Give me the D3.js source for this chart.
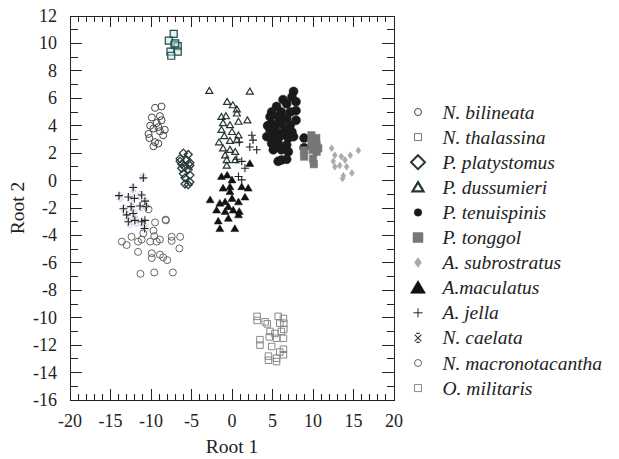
<!DOCTYPE html>
<html>
<head>
<meta charset="utf-8">
<script src="https://cdn.jsdelivr.net/npm/d3@7"></script>
<style>
  body { margin: 0; background: #fff; }
  svg { display: block; font-family: "Liberation Serif", "Times New Roman", serif; }
</style>
</head>
<body>
<div id="chart"></div>
<script>
// scores: [root1, root2]
var bilineata = [[-9.5,5.3],[-8.7,5.4],[-9.9,4.6],[-8.9,4.7],[-8.7,4.4],[-10.1,4.0],[-9.1,3.9],[-8.3,3.7],[-10.3,3.4],[-8.9,3.6],[-8.5,3.3],[-10.2,3.1],[-9.5,2.8],[-9.1,2.7],[-9.7,2.5],[-9.3,4.2],[-9.7,3.8]];
var thalassina = [[-7.2,10.7],[-7.8,10.2],[-7.1,9.9],[-6.7,9.8],[-7.6,9.4],[-6.7,9.4],[-7.5,9.1],[-7.0,10.0]];
var platystomus = [[-6.0,2.0],[-5.4,1.9],[-6.4,1.6],[-5.6,1.5],[-5.2,1.3],[-6.2,1.2],[-5.8,1.0],[-6.4,1.4],[-5.2,1.1],[-6.2,0.9],[-5.4,0.8],[-6.0,0.5],[-5.2,0.4],[-5.8,0.2],[-5.2,-0.1],[-5.8,-0.25],[-5.4,-0.3]];
var dussumieri = [[-2.8,6.55],[2.2,6.5],[-0.6,5.75],[0.1,5.5],[0.6,5.2],[0.6,4.9],[-1.3,4.65],[-0.75,4.7],[0.8,4.3],[1.9,4.4],[-1.1,4.2],[-0.25,4.05],[-1.3,3.7],[0.0,3.55],[0.8,3.3],[-0.95,3.25],[-1.6,2.8],[-0.25,2.9],[0.6,2.95],[-1.1,2.35],[-0.25,2.25],[0.4,2.1],[-0.85,1.85],[-0.65,1.5],[0.4,1.5],[-0.65,1.1]];
var tenuispinis = [[7.6,6.5],[7.4,6.1],[7.9,5.75],[5.5,5.4],[6.75,5.6],[4.9,5.0],[6.1,5.0],[7.2,5.0],[7.9,5.1],[4.7,4.65],[5.7,4.65],[6.75,4.55],[7.9,4.4],[4.9,4.15],[6.1,4.15],[7.2,4.05],[4.7,3.7],[5.5,3.55],[6.5,3.7],[7.4,3.55],[5.1,3.2],[5.9,3.2],[6.95,3.1],[4.9,2.7],[5.7,2.7],[6.75,2.6],[5.1,2.25],[6.1,2.25],[6.95,2.1],[6.1,1.5],[6.75,1.55],[5.7,1.4],[7.6,3.2],[5.3,3.9],[8.9,3.1],[8.9,2.4],[4.4,4.0],[4.3,3.2],[6.3,5.9],[5.9,4.4],[6.3,3.4],[5.4,2.9]];
var tonggol = [[9.8,3.3],[10.4,3.1],[9.8,2.8],[10.45,2.6],[9.95,2.25],[10.45,2.1],[8.9,2.2],[8.9,1.75],[10.0,1.6],[10.1,1.2],[10.65,2.35]];
var subrostratus = [[12.3,2.35],[12.7,1.85],[15.6,2.2],[14.6,1.85],[13.5,1.75],[12.5,1.4],[13.95,1.5],[13.3,1.1],[14.15,1.0],[12.7,1.0],[14.8,0.55],[13.75,0.35],[13.65,0.15]];
var maculatus = [[2.2,1.25],[-1.3,0.3],[-0.6,0.4],[0.0,0.05],[-1.1,-0.55],[-0.25,-0.45],[1.2,-0.45],[2.0,-0.55],[-2.7,-1.4],[-1.5,-1.65],[-0.85,-1.55],[0.0,-1.3],[0.8,-1.55],[1.6,-1.2],[-0.45,-1.9],[-1.9,-2.15],[-0.85,-2.25],[0.15,-2.15],[0.9,-2.25],[-1.7,-2.95],[-0.45,-2.75],[-1.5,-3.5],[0.35,-3.5],[0.8,-2.5],[-0.25,-0.8]];
var jella = [[-10.95,0.2],[-12.2,-0.5],[-13.95,-1.1],[-12.8,-1.2],[-12.05,-1.3],[-11.15,-1.05],[-10.75,-1.5],[-13.4,-2.05],[-12.45,-1.9],[-11.35,-1.85],[-10.55,-1.9],[-13.0,-2.5],[-12.2,-2.4],[-12.0,-2.9],[-11.15,-3.0],[-12.8,-3.0],[-10.75,-2.9],[-10.8,-3.5],[2.45,3.3],[2.6,2.95],[2.2,2.45],[3.05,2.25],[0.6,1.55],[1.2,1.4],[1.6,0.9],[0.8,0.3],[1.2,0.05],[0.9,2.8]];
var caelata = [[-12.2,-0.6],[-13.8,-1.2],[-12.6,-1.3],[-11.3,-1.1],[-10.6,-1.6],[-13.3,-2.1],[-12.3,-2.0],[-11.2,-1.9],[-12.9,-2.6],[-12.0,-2.5],[-11.8,-3.0],[-11.0,-3.1],[-12.6,-3.1],[-10.7,-3.4],[-11.0,0.25]];
var macronotacantha = [[-10.3,-2.1],[-8.15,-2.9],[-9.5,-3.05],[-9.7,-3.65],[-10.95,-3.85],[-9.6,-4.05],[-12.4,-4.1],[-8.9,-4.3],[-7.45,-4.1],[-6.4,-4.1],[-7.45,-4.4],[-13.6,-4.45],[-13.0,-4.7],[-11.6,-4.45],[-11.15,-4.3],[-10.1,-4.45],[-9.3,-4.45],[-6.5,-4.95],[-11.6,-5.2],[-9.9,-5.3],[-9.9,-5.65],[-8.9,-5.4],[-8.5,-5.6],[-8.0,-5.8],[-11.3,-6.8],[-9.6,-6.7],[-7.3,-6.7],[-8.2,-2.85]];
var militaris = [[3.1,-9.9],[3.1,-10.2],[4.1,-10.3],[4.35,-10.45],[5.7,-9.9],[6.35,-10.05],[5.9,-10.4],[6.4,-10.4],[6.4,-10.85],[4.7,-11.0],[6.1,-11.0],[5.3,-11.15],[4.6,-11.4],[5.5,-11.5],[6.35,-11.5],[3.45,-11.6],[3.45,-12.0],[4.9,-12.1],[6.35,-12.3],[5.9,-12.5],[6.35,-12.7],[4.5,-12.8],[4.5,-13.1],[5.5,-12.95],[5.5,-13.2]];

var species = ["N. bilineata","N. thalassina","P. platystomus","P. dussumieri","P. tenuispinis","P. tonggol","A. subrostratus","A.maculatus","A. jella","N. caelata","N. macronotacantha","O. militaris"];
var series = [bilineata, thalassina, platystomus, dussumieri, tenuispinis, tonggol, subrostratus, maculatus, jella, caelata, macronotacantha, militaris];

var x_ticks = [-20,-15,-10,-5,0,5,10,15,20];
var y_ticks = [12,10,8,6,4,2,0,-2,-4,-6,-8,-10,-12,-14,-16];

// marker looks, in legend order
var styles = [
  { shape: "circle", size: 7, stroke: "#444", fill: "none", sw: 1, lsize: 7, lsw: 1 },
  { shape: "square", size: 7, stroke: "#1f4c4c", fill: "rgba(200,230,230,0.5)", sw: 1.2, lsize: 7, lsw: 1, lstroke: "#777" },
  { shape: "diamond", size: 8, stroke: "#263838", fill: "none", sw: 1.3, lsize: 14, lsw: 2 },
  { shape: "triangle", size: 7, stroke: "#263333", fill: "none", sw: 1.2, lsize: 11, lsw: 2.2 },
  { shape: "circle", size: 9, stroke: "#1a1a1a", fill: "#1a1a1a", sw: 0.5, lsize: 7.5, lsw: 0.5 },
  { shape: "square", size: 7.5, stroke: "#777", fill: "#777", sw: 0.5, lsize: 10, lsw: 0.5 },
  { shape: "tdiamond", size: 7, stroke: "#aaa", fill: "#aaa", sw: 0.5, lsize: 10, lsw: 0.5 },
  { shape: "triangle", size: 8, stroke: "#111", fill: "#111", sw: 0.5, lsize: 15, lsw: 0.5 },
  { shape: "plus", size: 8, stroke: "#222", fill: "none", sw: 1.1, lsize: 9, lsw: 1 },
  { shape: "caelata", size: 8, stroke: "#cfcfe6", fill: "none", sw: 1.4, lsize: 9, lsw: 1.1, lstroke: "#333" },
  { shape: "circle", size: 7, stroke: "#666", fill: "none", sw: 1, lsize: 7, lsw: 1 },
  { shape: "square", size: 6.5, stroke: "#888", fill: "none", sw: 1, lsize: 7, lsw: 1 }
];

// paint order on the plot (caelata sits under the jella crosses)
var draw_order = [0, 1, 2, 3, 4, 5, 6, 7, 9, 8, 10, 11];

function markerPath(shape, s) {
  var h = s / 2;
  switch (shape) {
    case "circle":
      return "M" + h + ",0A" + h + "," + h + " 0 1,1 " + (-h) + ",0A" + h + "," + h + " 0 1,1 " + h + ",0Z";
    case "square":
      return "M" + (-h) + "," + (-h) + "H" + h + "V" + h + "H" + (-h) + "Z";
    case "diamond":
      return "M0," + (-h) + "L" + h + ",0L0," + h + "L" + (-h) + ",0Z";
    case "tdiamond":
      return "M0," + (-h) + "L" + (h * 0.7) + ",0L0," + h + "L" + (-h * 0.7) + ",0Z";
    case "triangle":
      return "M0," + (-h * 0.95) + "L" + h + "," + (h * 0.75) + "L" + (-h) + "," + (h * 0.75) + "Z";
    case "plus":
      return "M" + (-h) + ",0H" + h + "M0," + (-h) + "V" + h;
    case "caelata":
      var q = h * 0.75;
      return "M" + (-q) + "," + (-q) + "L" + q + "," + q + "M" + q + "," + (-q) + "L" + (-q) + "," + q +
        "M" + (-q * 0.5) + "," + (-h) + "H" + (q * 0.5) + "M" + (-q * 0.5) + "," + h + "H" + (q * 0.5);
  }
}

var width = 619, height = 459;
var margin = { top: 16, right: 225, bottom: 59, left: 70 };

var svg = d3.select("#chart").append("svg")
  .attr("width", width)
  .attr("height", height);

var x = d3.scaleLinear().domain([-20, 20]).range([margin.left, width - margin.right]);
var y = d3.scaleLinear().domain([-16, 12]).range([height - margin.bottom, margin.top]);

var axis_color = "#222";

// minor + major ticks on all four sides, pointing inwards
var x_minor = d3.range(-20, 21, 1);
var y_minor = d3.range(-16, 13, 1);

function tickLen_x(v) { return v % 5 === 0 ? 11 : 6; }
function tickLen_y(v) { return v % 2 === 0 ? 12 : 7.5; }

var ticks = svg.append("g").attr("shape-rendering", "crispEdges").attr("stroke", axis_color).attr("stroke-width", 1);

ticks.selectAll(".xb").data(x_minor).enter().append("line")
  .attr("x1", function (d) { return x(d); }).attr("x2", function (d) { return x(d); })
  .attr("y1", y(-16)).attr("y2", function (d) { return y(-16) - tickLen_x(d); });
ticks.selectAll(".xt").data(x_minor).enter().append("line")
  .attr("x1", function (d) { return x(d); }).attr("x2", function (d) { return x(d); })
  .attr("y1", y(12)).attr("y2", function (d) { return y(12) + tickLen_x(d); });
ticks.selectAll(".yl").data(y_minor).enter().append("line")
  .attr("y1", function (d) { return y(d); }).attr("y2", function (d) { return y(d); })
  .attr("x1", x(-20)).attr("x2", function (d) { return x(-20) + tickLen_y(d); });
ticks.selectAll(".yr").data(y_minor).enter().append("line")
  .attr("y1", function (d) { return y(d); }).attr("y2", function (d) { return y(d); })
  .attr("x1", x(20)).attr("x2", function (d) { return x(20) - tickLen_y(d); });

svg.append("rect")
  .attr("x", x(-20)).attr("y", y(12))
  .attr("width", x(20) - x(-20)).attr("height", y(-16) - y(12))
  .attr("fill", "none").attr("stroke", axis_color).attr("stroke-width", 1)
  .attr("shape-rendering", "crispEdges");

// tick labels
svg.selectAll(".xlab").data(x_ticks).enter().append("text")
  .attr("x", function (d) { return x(d); })
  .attr("y", y(-16) + 27)
  .attr("text-anchor", "middle")
  .attr("font-size", "18px")
  .attr("fill", "#222")
  .text(function (d) { return d; });

svg.selectAll(".ylab").data(y_ticks).enter().append("text")
  .attr("x", x(-20) - 13)
  .attr("y", function (d) { return y(d) + 6; })
  .attr("text-anchor", "end")
  .attr("font-size", "18px")
  .attr("fill", "#222")
  .text(function (d) { return d; });

svg.append("text")
  .attr("x", (x(-20) + x(20)) / 2)
  .attr("y", 453)
  .attr("text-anchor", "middle")
  .attr("font-size", "19.5px")
  .attr("fill", "#222")
  .text("Root 1");

svg.append("text")
  .attr("transform", "translate(24," + (y(-2)) + ") rotate(-90)")
  .attr("text-anchor", "middle")
  .attr("font-size", "19.5px")
  .attr("fill", "#222")
  .text("Root 2");

// points
draw_order.forEach(function (i) {
  var st = styles[i];
  svg.append("g")
    .selectAll("path")
    .data(series[i])
    .enter()
    .append("path")
    .attr("transform", function (d) { return "translate(" + x(d[0]) + "," + y(d[1]) + ")"; })
    .attr("d", markerPath(st.shape, st.size))
    .attr("fill", st.fill)
    .attr("stroke", st.stroke)
    .attr("stroke-width", st.sw);
});

// legend
var legend = svg.append("g").attr("transform", "translate(418,112)");
var row_h = 25.1;

legend.selectAll("path")
  .data(species)
  .enter()
  .append("path")
  .attr("transform", function (d, i) { return "translate(0," + (i * row_h) + ")"; })
  .attr("d", function (d, i) { return markerPath(styles[i].shape, styles[i].lsize); })
  .attr("fill", function (d, i) { return styles[i].fill === "none" || styles[i].fill.indexOf("rgba") === 0 ? "none" : styles[i].fill; })
  .attr("stroke", function (d, i) { return styles[i].lstroke || styles[i].stroke; })
  .attr("stroke-width", function (d, i) { return styles[i].lsw; });

legend.selectAll("text")
  .data(species)
  .enter()
  .append("text")
  .attr("x", 24.5)
  .attr("y", function (d, i) { return i * row_h + 6.5; })
  .attr("font-size", "19.5px")
  .attr("font-style", "italic")
  .attr("fill", "#222")
  .text(function (d) { return d; });
</script>
</body>
</html>
